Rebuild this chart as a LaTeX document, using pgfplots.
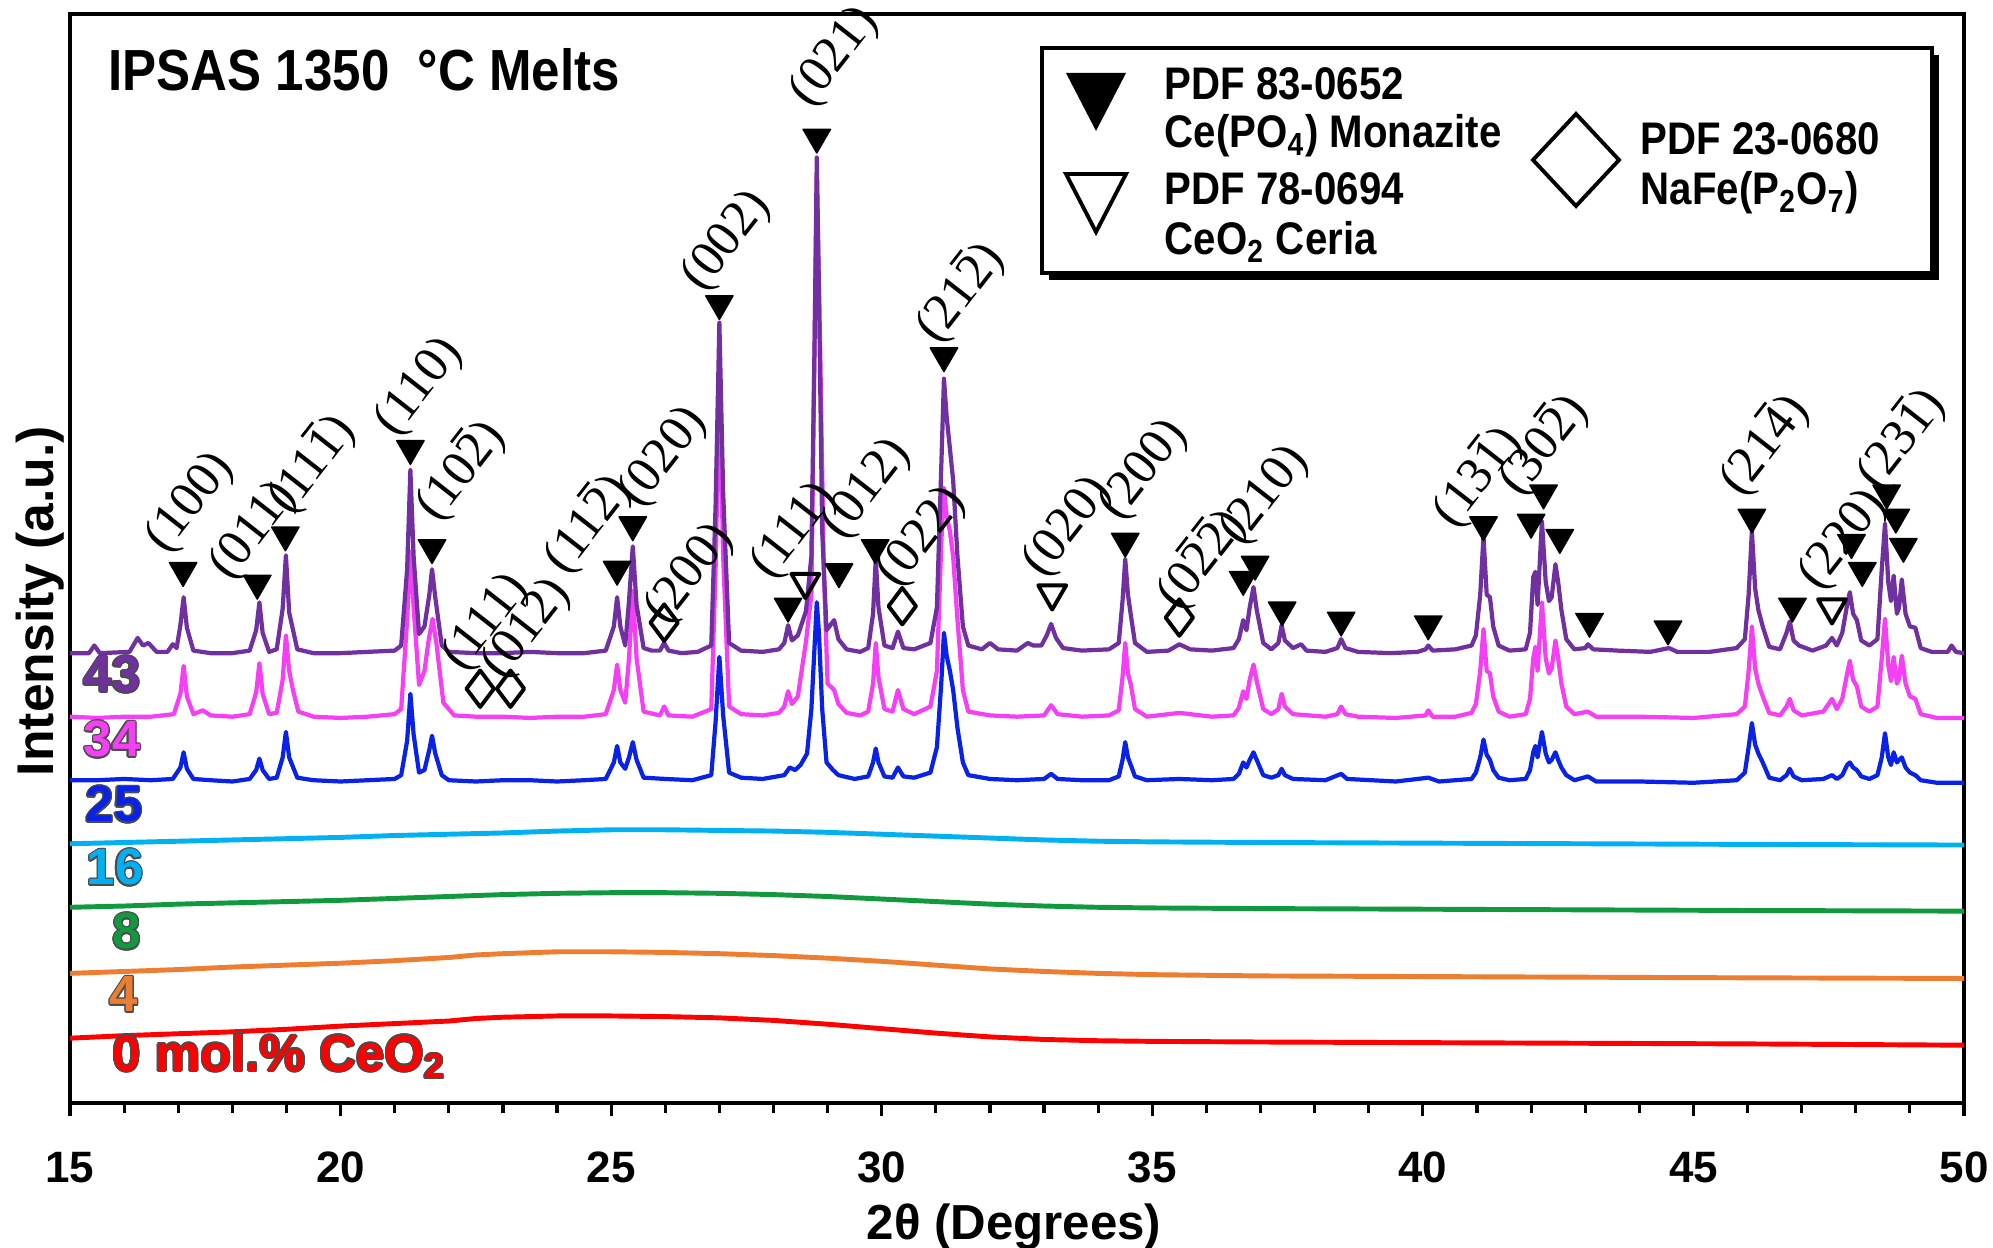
\documentclass[border=0pt]{standalone}
\usepackage{fontspec}
\setmainfont{Liberation Sans}
\newfontfamily\cond{Liberation Sans}[FakeStretch=0.88]
\newfontfamily\tnr{Liberation Serif}
\usepackage{pgfplots}
\pgfplotsset{compat=1.18}
\usepackage[copies]{contour}
\contourlength{0.35pt}

\definecolor{cpur}{HTML}{7030A0}
\definecolor{cmag}{HTML}{F43FF4}
\definecolor{cblu}{HTML}{0A22E6}
\definecolor{ccya}{HTML}{00B0F0}
\definecolor{cgre}{HTML}{11993F}
\definecolor{cora}{HTML}{ED7D31}
\definecolor{cred}{HTML}{FF0000}

% digit with a bar over it
\newcommand{\ob}[1]{\rlap{\kern0.07em\rule[0.74em]{0.36em}{0.055em}}#1}
\newcommand{\hkl}[3]{\node[rotate=52, font=\tnr\fontsize{14.5}{14.5}\selectfont] at (axis cs:#1,#2) {#3};}

\begin{document}
\begin{tikzpicture}
\begin{axis}[
    at={(0,0)}, anchor=south west,
    scale only axis,
    width=18.94cm, height=10.89cm,
    xmin=15, xmax=50, ymin=0, ymax=857,
    xtick={15,20,...,50}, minor x tick num=4,
    ytick=\empty,
    xtick pos=bottom, tick align=outside,
    major tick length=0.13cm, minor tick length=0.10cm,
    every tick/.style={black, line width=0.9pt},
    axis line style={line width=1.1pt},
    /pgf/number format/assume math mode=true,
    xticklabel style={font=\fontsize{12.5}{12.5}\selectfont\bfseries, anchor=base, yshift=-0.66cm},
    clip=false,
    every axis plot/.style={line width=1.2pt, line join=round},
]
% amorphous patterns
\addplot[cred, line width=1.4pt] coordinates {(15,51) (16,53) (17,54.5) (18,56) (19,58) (20,60.5) (21,62.5) (22,64.5) (22.5,66.5) (23,67.5) (24,68.5) (25,68.5) (26,68) (27,67) (28,65) (29,62) (30,58.5) (31,55) (32,52) (33,50) (34,49) (35,48.5) (37,48) (40,47.5) (43,47) (46,46.5) (50,45.5)};
\addplot[cora, line width=1.4pt] coordinates {(15,102) (16,103.5) (17,105) (18,107) (19,108.5) (20,110) (21,112) (22,114.5) (22.5,116.5) (23,117.5) (24,119) (25,119) (26,118.5) (27,117.5) (28,116) (29,114) (30,111.5) (31,108.5) (32,105.5) (33,103.5) (34,102) (35,101) (37,100) (40,99.5) (43,99) (46,98.5) (50,98)};
\addplot[cgre, line width=1.4pt] coordinates {(15,154) (16,155) (17,156.5) (18,157.5) (19,158.5) (20,159.5) (21,161) (22,162.5) (23,164) (24,165) (25,165.5) (26,165.5) (27,165) (28,164) (29,162.5) (30,160.5) (31,158.5) (32,156.5) (33,155) (34,154) (35,153.5) (37,153) (40,152.5) (43,152) (46,151.5) (50,151)};
\addplot[ccya, line width=1.4pt] coordinates {(15,204) (16,205) (17,206) (18,207) (19,208) (20,209) (21,210.5) (22,211.5) (23,212.5) (24,214) (25,215) (26,215) (27,214.5) (28,214) (29,213) (30,211.5) (31,210) (32,208.5) (33,207) (34,206) (35,205.5) (37,205) (40,204.5) (43,204) (46,203.5) (50,203)};
% 25 mol.%
\addplot[cblu] coordinates {(15,254) (15.5,254) (16,255) (16.5,254) (16.9,255) (17.04,264) (17.1,276) (17.16,263) (17.28,255) (17.6,254) (18.0,253) (18.32,255) (18.44,262) (18.5,271) (18.56,262) (18.68,255) (18.82,256) (18.93,272) (18.99,292) (19.05,272) (19.2,256) (19.5,254) (20,253) (20.5,254) (21.0,255) (21.12,258) (21.23,285) (21.29,322) (21.35,290) (21.45,260) (21.55,262) (21.64,278) (21.69,289) (21.75,275) (21.87,258) (22.0,254) (22.5,253) (23,254) (23.5,254) (24,253) (24.5,254) (24.9,255) (25.05,268) (25.11,281) (25.17,268) (25.26,263) (25.33,272) (25.4,284) (25.47,270) (25.6,256) (26.0,255) (26.5,254) (26.85,258) (26.93,300) (27.0,351) (27.07,305) (27.18,260) (27.4,256) (27.8,255) (28.2,258) (28.3,264) (28.4,262) (28.5,266) (28.62,275) (28.7,310) (28.76,360) (28.8,394) (28.84,370) (28.9,310) (28.98,268) (29.1,262) (29.2,258) (29.5,255) (29.75,257) (29.84,268) (29.89,279) (29.94,268) (30.05,257) (30.2,256) (30.3,264) (30.4,257) (30.6,256) (30.9,260) (31.02,280) (31.1,330) (31.15,370) (31.2,352) (31.26,340) (31.32,325) (31.4,295) (31.5,268) (31.6,258) (32,255) (32.5,254) (33.0,255) (33.13,259) (33.25,255) (33.7,254) (34.2,254) (34.38,257) (34.45,270) (34.5,284) (34.55,272) (34.68,257) (34.9,254) (35.5,255) (36.1,254) (36.5,255) (36.6,259) (36.68,268) (36.74,264) (36.8,270) (36.87,276) (36.93,270) (37.05,258) (37.2,256) (37.33,258) (37.39,263) (37.45,258) (37.6,255) (38.2,254) (38.49,259) (38.6,255) (39.5,253) (40.1,256) (40.3,253) (40.9,255) (40.98,260) (41.06,272) (41.12,286) (41.18,274) (41.24,270) (41.3,262) (41.4,256) (41.6,254) (41.9,255) (41.98,262) (42.04,276) (42.08,281) (42.12,272) (42.2,292) (42.27,275) (42.33,268) (42.38,270) (42.45,276) (42.5,270) (42.56,264) (42.65,258) (42.8,254) (43.05,257) (43.2,253) (44,253) (45,252) (45.8,254) (45.95,260) (46.02,280) (46.08,299) (46.14,282) (46.2,275) (46.28,268) (46.4,256) (46.6,254) (46.72,258) (46.78,263) (46.85,257) (47.0,254) (47.4,255) (47.56,258) (47.65,255) (47.75,258) (47.84,266) (47.89,268) (47.95,264) (48.02,262) (48.1,257) (48.25,255) (48.4,258) (48.48,272) (48.54,291) (48.6,272) (48.65,266) (48.7,276) (48.76,268) (48.8,270) (48.85,272) (48.92,264) (49.0,260) (49.1,258) (49.2,254) (49.5,252) (50,252)};
% 34 mol.%
\addplot[cmag] coordinates {(15,304) (15.5,303) (16,304) (16.5,304) (16.92,306) (17.04,322) (17.1,344) (17.16,320) (17.28,306) (17.45,309) (17.6,305) (18.0,304) (18.32,306) (18.44,323) (18.5,346) (18.56,322) (18.68,306) (18.82,307) (18.93,333) (18.99,368) (19.05,340) (19.12,325) (19.22,308) (19.5,304) (20,303) (20.5,304) (21.0,306) (21.12,310) (21.23,380) (21.29,434) (21.35,390) (21.45,329) (21.55,340) (21.63,365) (21.7,381) (21.77,362) (21.9,315) (22.1,305) (22.5,304) (23,304) (23.5,303) (24,304) (24.5,304) (24.9,306) (25.05,325) (25.11,345) (25.17,325) (25.26,315) (25.33,350) (25.4,403) (25.47,350) (25.6,308) (25.9,305) (25.98,312) (26.06,305) (26.5,304) (26.85,310) (26.93,420) (27.0,569) (27.07,430) (27.18,312) (27.4,306) (27.8,305) (28.1,307) (28.2,312) (28.27,324) (28.34,314) (28.45,320) (28.6,363) (28.7,400) (28.76,600) (28.8,728) (28.86,600) (28.93,420) (29.0,330) (29.12,325) (29.2,314) (29.35,307) (29.6,305) (29.75,308) (29.84,330) (29.89,362) (29.94,335) (30.05,310) (30.2,308) (30.3,325) (30.4,310) (30.6,306) (30.9,312) (31.02,340) (31.1,440) (31.15,484) (31.2,462) (31.26,450) (31.32,430) (31.4,380) (31.5,325) (31.6,308) (32,305) (32.5,304) (33.0,305) (33.13,313) (33.25,306) (33.7,304) (34.2,305) (34.38,309) (34.45,335) (34.5,362) (34.55,338) (34.6,330) (34.68,310) (34.9,304) (35.5,307) (36.1,304) (36.5,305) (36.6,311) (36.68,324) (36.74,318) (36.8,333) (36.87,345) (36.93,332) (37.05,310) (37.2,306) (37.33,310) (37.39,322) (37.45,312) (37.6,306) (38.2,304) (38.42,306) (38.49,312) (38.57,306) (38.8,304) (39.5,303) (40.05,305) (40.1,309) (40.18,304) (40.6,304) (40.9,307) (40.98,314) (41.06,340) (41.12,373) (41.18,340) (41.24,338) (41.3,320) (41.4,308) (41.6,304) (41.9,306) (41.98,318) (42.04,350) (42.08,359) (42.12,340) (42.2,394) (42.27,350) (42.33,338) (42.38,342) (42.45,364) (42.5,350) (42.56,330) (42.65,312) (42.8,306) (43.05,308) (43.2,304) (44,304) (45,303) (45.8,306) (45.95,312) (46.02,340) (46.08,375) (46.14,342) (46.2,330) (46.28,320) (46.4,307) (46.6,305) (46.72,312) (46.78,318) (46.85,309) (47.0,305) (47.4,308) (47.56,318) (47.65,310) (47.75,318) (47.84,338) (47.89,348) (47.95,333) (48.02,328) (48.1,312) (48.25,308) (48.4,312) (48.48,350) (48.54,381) (48.6,345) (48.65,332) (48.7,351) (48.76,330) (48.8,334) (48.85,352) (48.92,330) (49.0,320) (49.1,318) (49.2,306) (49.5,303) (50,303)};
% 43 mol.%
\addplot[cpur] coordinates {(15,354) (15.35,354) (15.45,360) (15.55,354) (16.1,355) (16.25,366) (16.35,360) (16.45,362) (16.6,355) (16.8,355) (16.9,361) (16.97,358) (17.04,376) (17.1,398) (17.16,374) (17.28,356) (17.6,354) (18.0,354) (18.32,356) (18.44,372) (18.5,394) (18.56,370) (18.68,355) (18.82,357) (18.93,389) (18.99,431) (19.05,386) (19.2,357) (19.5,354) (20,354) (20.5,355) (21.0,356) (21.12,360) (21.23,420) (21.29,498) (21.35,430) (21.45,369) (21.55,375) (21.64,400) (21.69,420) (21.75,398) (21.87,360) (22.0,355) (22.5,354) (23,354) (23.5,355) (24,354) (24.5,354) (24.9,356) (25.05,375) (25.11,398) (25.17,375) (25.26,360) (25.33,395) (25.4,438) (25.47,392) (25.6,358) (25.75,356) (25.9,356) (25.98,362) (26.06,356) (26.3,354) (26.6,355) (26.85,360) (26.93,470) (27.0,614) (27.07,480) (27.18,362) (27.4,356) (27.8,355) (28.1,357) (28.2,362) (28.27,376) (28.34,364) (28.45,368) (28.6,387) (28.7,430) (28.76,600) (28.8,744) (28.84,640) (28.9,450) (28.98,372) (29.12,380) (29.2,365) (29.35,357) (29.6,355) (29.75,358) (29.84,385) (29.89,428) (29.94,390) (30.05,360) (30.2,358) (30.3,371) (30.4,358) (30.6,357) (30.9,362) (31.02,390) (31.1,500) (31.15,570) (31.2,540) (31.26,515) (31.32,490) (31.4,430) (31.5,375) (31.6,360) (31.85,357) (32.0,362) (32.15,357) (32.5,356) (32.7,362) (32.8,360) (32.95,360) (33.05,368) (33.13,377) (33.22,366) (33.35,358) (33.7,356) (34.2,357) (34.38,362) (34.45,395) (34.5,428) (34.55,400) (34.6,385) (34.68,362) (34.9,355) (35.3,356) (35.5,361) (35.7,357) (36.1,356) (36.5,358) (36.6,365) (36.68,380) (36.74,372) (36.8,390) (36.87,406) (36.93,388) (37.05,362) (37.2,357) (37.33,362) (37.39,376) (37.45,364) (37.6,358) (37.75,361) (37.85,356) (38.2,355) (38.42,358) (38.49,365) (38.57,358) (38.8,355) (39.4,354) (39.9,355) (40.05,357) (40.1,360) (40.18,356) (40.6,357) (40.9,360) (40.98,368) (41.06,400) (41.12,446) (41.18,400) (41.24,398) (41.3,375) (41.4,360) (41.6,356) (41.9,357) (41.98,370) (42.04,414) (42.08,418) (42.12,392) (42.2,458) (42.27,410) (42.33,395) (42.38,398) (42.45,424) (42.5,410) (42.56,388) (42.65,365) (42.8,357) (43.0,358) (43.05,361) (43.15,357) (43.6,356) (44.2,355) (44.55,358) (44.7,355) (45.3,355) (45.8,358) (45.95,365) (46.02,400) (46.08,450) (46.14,405) (46.2,388) (46.28,375) (46.4,359) (46.6,357) (46.72,370) (46.78,379) (46.85,364) (46.95,360) (47.2,356) (47.45,360) (47.56,366) (47.65,360) (47.75,370) (47.84,392) (47.89,402) (47.95,385) (48.02,380) (48.1,364) (48.25,360) (48.4,365) (48.48,420) (48.54,456) (48.6,410) (48.65,395) (48.7,415) (48.76,385) (48.8,390) (48.85,412) (48.92,385) (49.0,375) (49.1,374) (49.2,358) (49.4,355) (49.7,355) (49.77,360) (49.85,355) (50,354)};

% phase markers
\addplot[only marks, mark=triangle*, mark size=4.5pt, mark options={rotate=180, fill=black, draw=black, line width=0.4pt}] coordinates {
(17.09,419) (18.46,409) (18.98,447) (21.29,515) (21.69,437) (25.11,420) (25.4,455) (27.0,629) (28.27,391) (28.8,760) (29.21,418) (29.88,437) (31.15,588) (34.5,442) (36.68,412) (36.9,424) (37.4,388) (38.49,380) (40.1,377) (41.12,455) (42.0,457) (42.23,480) (42.53,445) (43.08,379) (44.53,373) (46.08,461) (46.83,391) (47.92,441) (48.12,419) (48.57,480) (48.74,461) (48.88,438)};
\addplot[only marks, mark=triangle, mark size=4.6pt, mark options={rotate=180, fill=white, draw=black, line width=1.1pt}] coordinates {
(28.59,410) (33.15,401) (47.56,390)};
\addplot[only marks, mark=diamond, mark size=5.2pt, mark options={fill=white, draw=black, line width=1.1pt}] coordinates {
(22.58,326) (23.14,326) (25.98,378) (30.38,391) (35.5,382)};

% Miller indices
\hkl{17.23}{472}{(100)}
\hkl{18.4}{450}{(011)}
\hkl{19.46}{503}{(11\ob{1})}
\hkl{21.46}{563}{(110)}
\hkl{22.21}{498}{(10\ob{2})}
\hkl{22.7}{378}{(111)}
\hkl{23.45}{373}{(012)}
\hkl{24.56}{456}{(11\ob{2})}
\hkl{25.97}{508}{(020)}
\hkl{26.46}{416}{(200)}
\hkl{27.14}{678}{(002)}
\hkl{28.39}{450}{(111)}
\hkl{29.14}{823}{(021)}
\hkl{29.73}{483}{(012)}
\hkl{30.75}{445}{(022)}
\hkl{31.44}{638}{(21\ob{2})}
\hkl{33.44}{453}{(020)}
\hkl{34.85}{498}{(200)}
\hkl{35.9}{428}{(0\ob{2}\ob{2})}
\hkl{37.08}{478}{(210)}
\hkl{41.0}{493}{(13\ob{1})}
\hkl{42.22}{518}{(30\ob{2})}
\hkl{46.3}{518}{(21\ob{4})}
\hkl{47.77}{443}{(220)}
\hkl{48.83}{523}{(23\ob{1})}
\end{axis}

% titles and axis labels
\node[anchor=base west, font=\cond\bfseries\fontsize{16.5}{16.5}\selectfont, inner sep=0pt] at (0.38,10.12) {IPSAS 1350\ \ °C Melts};
\node[anchor=base, font=\bfseries\fontsize{14}{14}\selectfont, inner sep=0pt] at (9.44,-1.37) {2θ (Degrees)};
\node[rotate=90, font=\bfseries\fontsize{14.7}{14.7}\selectfont, inner sep=0pt] at (-0.30,5.02) {Intensity (a.u.)};

% series labels
\begin{scope}[every node/.style={anchor=west, inner sep=0pt, font=\bfseries\fontsize{14.5}{14.5}\selectfont}]
\node at (0.13,4.28) {\contour{black!70}{\textcolor{cpur}{43}}};
\node at (0.13,3.63) {\contour{black!70}{\textcolor{cmag}{34}}};
\node at (0.15,2.98) {\contour{black!70}{\textcolor{cblu}{25}}};
\node at (0.16,2.35) {\contour{black!70}{\textcolor{ccya}{16}}};
\node at (0.42,1.71) {\contour{black!70}{\textcolor{cgre}{8}}};
\node at (0.39,1.08) {\contour{black!70}{\textcolor{cora}{4}}};
\node at (0.42,0.46) {\contour{black!70}{\textcolor{cred}{0 mol.\% CeO\textsubscript{2}}}};
\end{scope}

% legend
\fill[black] (9.79,8.23) rectangle (18.69,10.48);
\draw[fill=white, line width=0.9pt] (9.72,8.30) rectangle (18.62,10.55);
\fill[black] (9.96,10.30) -- (10.56,10.30) -- (10.26,9.72) -- cycle;
\draw[fill=white, line width=1.1pt] (9.96,9.29) -- (10.56,9.29) -- (10.26,8.71) -- cycle;
\draw[fill=white, line width=1.1pt] (15.06,9.89) -- (15.49,9.43) -- (15.06,8.97) -- (14.63,9.43) -- cycle;
\begin{scope}[every node/.style={anchor=base west, inner sep=0pt, font=\cond\bfseries\fontsize{13}{13}\selectfont}]
\node at (10.94,10.03) {PDF 83-0652};
\node at (10.94,9.55) {Ce(PO\textsubscript{4}) Monazite};
\node at (10.94,8.98) {PDF 78-0694};
\node at (10.94,8.48) {CeO\textsubscript{2} Ceria};
\node at (15.70,9.48) {PDF 23-0680};
\node at (15.70,8.98) {NaFe(P\textsubscript{2}O\textsubscript{7})};
\end{scope}

\pgfresetboundingbox
\path[use as bounding box] (-0.70,-1.45) rectangle (19.23,11.03);
\end{tikzpicture}
\end{document}
